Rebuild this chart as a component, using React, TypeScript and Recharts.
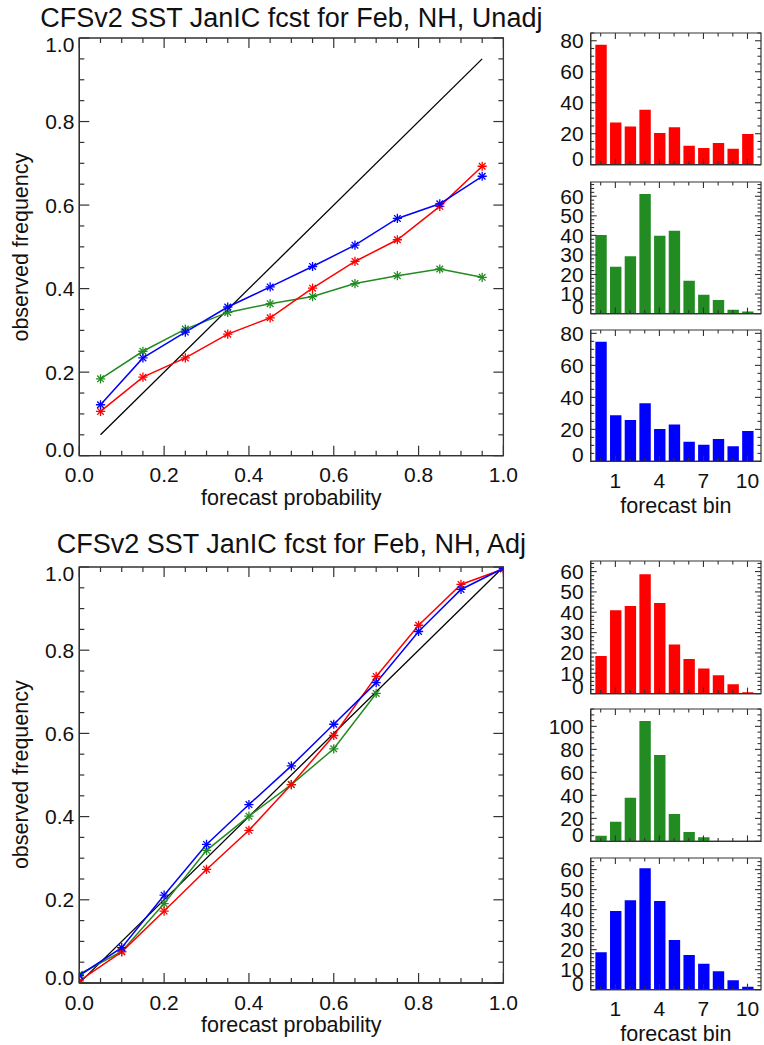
import React from 'react';
import { ComposedChart, Line, XAxis, YAxis, Bar, BarChart, ReferenceArea } from 'recharts';

const FONT = '"Liberation Sans", Arial, Helvetica, sans-serif';
const INK = '#111111';
const FRAME = '#333333';
const RED = '#ff0000';
const GREEN = '#228b22';
const BLUE = '#0000ff';

// ---------- Top panel (unadjusted) ----------
const unadjTitle = 'CFSv2 SST JanIC fcst for Feb, NH, Unadj';
const unadjProb = [0.05, 0.15, 0.25, 0.35, 0.45, 0.55, 0.65, 0.75, 0.85, 0.95];
const unadjRed = [0.106, 0.188, 0.234, 0.291, 0.33, 0.401, 0.465, 0.517, 0.597, 0.693];
const unadjGreen = [0.184, 0.25, 0.303, 0.343, 0.364, 0.381, 0.412, 0.431, 0.447, 0.427];
const unadjBlue = [0.122, 0.234, 0.296, 0.356, 0.404, 0.453, 0.504, 0.568, 0.603, 0.669];
const unadjDiagonal = [0.05, 0.95];

// ---------- Bottom panel (adjusted) ----------
const adjTitle = 'CFSv2 SST JanIC fcst for Feb, NH, Adj';
const adjProb = [0, 0.1, 0.2, 0.3, 0.4, 0.5, 0.6, 0.7, 0.8, 0.9, 1.0];
const adjRed = [0.005, 0.075, 0.173, 0.273, 0.367, 0.477, 0.595, 0.737, 0.86, 0.958, 0.995];
const adjGreen = [0.021, 0.076, 0.191, 0.319, 0.401, 0.477, 0.563, 0.696];
const adjBlue = [0.018, 0.085, 0.211, 0.333, 0.429, 0.522, 0.622, 0.722, 0.845, 0.946, 0.997];
const adjDiagonal = [0, 1];

// ---------- Histograms ----------
const bins = [0, 1, 2, 3, 4, 5, 6, 7, 8, 9, 10];
const binTickLabels = [1, 4, 7, 10];
const unadjHistRed = [77.4, 27.3, 24.7, 35.5, 20.4, 24.1, 12.3, 10.8, 14, 10.3, 19.8];
const unadjHistGreen = [40.2, 24, 29.3, 61.2, 39.8, 42.4, 16.8, 9.7, 6.9, 2, 1.1];
const unadjHistBlue = [74.8, 28.8, 25.8, 36.3, 20.2, 23.1, 12.3, 10.4, 14, 9.4, 19];
const adjHistRed = [18.5, 41, 43.1, 58.7, 44.6, 24.1, 17, 12.3, 9, 4.6, 0.6];
const adjHistGreen = [4.9, 17.1, 38, 104.6, 75, 23.8, 8.1, 3.5, 0, 0, 0];
const adjHistBlue = [18.7, 39.3, 44.7, 60.7, 44.3, 24.8, 17.3, 13, 9.2, 4.7, 1.5];

// tick labels
const probTicks = [0, 0.05, 0.1, 0.15, 0.2, 0.25, 0.3, 0.35, 0.4, 0.45, 0.5, 0.55, 0.6, 0.65, 0.7, 0.75, 0.8, 0.85, 0.9, 0.95, 1.0];
const probTickLabels = [0, 0.2, 0.4, 0.6, 0.8, 1.0];

const histRedTopLabels = [0, 20, 40, 60, 80];
const histGreenTopLabels = [0, 10, 20, 30, 40, 50, 60];
const histBlueTopLabels = [0, 20, 40, 60, 80];
const histRedBotLabels = [0, 10, 20, 30, 40, 50, 60];
const histGreenBotLabels = [0, 20, 40, 60, 80, 100];
const histBlueBotLabels = [0, 10, 20, 30, 40, 50, 60];

const xLabelProb = 'forecast probability';
const yLabelFreq = 'observed frequency';
const xLabelBin = 'forecast bin';

const near = (a: number, list: number[]) => list.some((b) => Math.abs(a - b) < 1e-6);

function minorTicks(max: number, step: number): number[] {
  const out: number[] = [];
  for (let i = 0; i * step <= max + 1e-9; i++) out.push(+(i * step).toFixed(6));
  return out;
}

const zip = (xs: number[], ys: number[]) => ys.map((y, i) => ({ x: xs[i], y }));

const star = (color: string) => (props: any) => {
  const { cx, cy, index } = props;
  if (cx == null || cy == null) return <g key={`n${index}`} />;
  const r = 4.6;
  const d = r * 0.72;
  return (
    <g key={`s${index}`} stroke={color} strokeWidth={1.3}>
      <line x1={cx - r} y1={cy} x2={cx + r} y2={cy} />
      <line x1={cx} y1={cy - r} x2={cx} y2={cy + r} />
      <line x1={cx - d} y1={cy - d} x2={cx + d} y2={cy + d} />
      <line x1={cx - d} y1={cy + d} x2={cx + d} y2={cy - d} />
    </g>
  );
};

type RelProps = {
  plotTop: number;
  plotBottom: number;
  red: { x: number; y: number }[];
  green: { x: number; y: number }[];
  blue: { x: number; y: number }[];
  diag: { x: number; y: number }[];
};

const PL = 79.3;
const PR = 503.4;

function Reliability({ plotTop, plotBottom, red, green, blue, diag }: RelProps) {
  const W = 540;
  const padTop = 14;
  const padBottom = 40;
  const plotH = plotBottom - plotTop;
  const plotW = PR - PL;
  const H = plotH + padTop + padBottom;
  const yW = 10;
  const xH = 10;

  const XTick = (p: any) => {
    const { x, y, payload } = p;
    const v = payload.value;
    const major = near(v, probTickLabels);
    const len = major ? 10 : 5;
    return (
      <g>
        <line x1={x} x2={x} y1={y} y2={y - len} stroke={FRAME} strokeWidth={1.2} />
        <line x1={x} x2={x} y1={y - plotH} y2={y - plotH + len} stroke={FRAME} strokeWidth={1.2} />
        {major && (
          <text x={x} y={y + 26.5} textAnchor="middle" fontFamily={FONT} fontSize={21} fill={INK}>
            {v.toFixed(1)}
          </text>
        )}
      </g>
    );
  };
  const YTick = (p: any) => {
    const { x, y, payload } = p;
    const v = payload.value;
    const major = near(v, probTickLabels);
    const len = major ? 10 : 5;
    const shift = v === 0 ? -6 : v === 1 ? 6 : 0;
    return (
      <g>
        <line x1={x} x2={x + len} y1={y} y2={y} stroke={FRAME} strokeWidth={1.2} />
        <line x1={x + plotW} x2={x + plotW - len} y1={y} y2={y} stroke={FRAME} strokeWidth={1.2} />
        {major && (
          <text x={x - 5} y={y + 7.6 + shift} textAnchor="end" fontFamily={FONT} fontSize={21} fill={INK}>
            {v.toFixed(1)}
          </text>
        )}
      </g>
    );
  };

  return (
    <div style={{ position: 'absolute', left: 0, top: plotTop - padTop }}>
      <ComposedChart
        width={W}
        height={H}
        margin={{ top: padTop, left: PL - yW, right: W - PR, bottom: padBottom - xH }}
      >
        <Line data={diag} dataKey="y" stroke="#000" strokeWidth={1.3} dot={false} isAnimationActive={false} />
        <Line data={green} dataKey="y" stroke={GREEN} strokeWidth={1.5} dot={star(GREEN)} isAnimationActive={false} />
        <Line data={red} dataKey="y" stroke={RED} strokeWidth={1.5} dot={star(RED)} isAnimationActive={false} />
        <Line data={blue} dataKey="y" stroke={BLUE} strokeWidth={1.5} dot={star(BLUE)} isAnimationActive={false} />
        <ReferenceArea x1={0} x2={1} y1={0} y2={1} fill="none" stroke={FRAME} strokeWidth={1.3} ifOverflow="visible" />
        <XAxis
          type="number"
          dataKey="x"
          domain={[0, 1]}
          allowDataOverflow
          ticks={probTicks}
          interval={0}
          tickSize={0}
          tickMargin={0}
          height={xH}
          axisLine={{ stroke: FRAME, strokeWidth: 1.3 }}
          tickLine={false}
          tick={XTick}
        />
        <YAxis
          type="number"
          domain={[0, 1]}
          allowDataOverflow
          ticks={probTicks}
          interval={0}
          tickSize={0}
          tickMargin={0}
          width={yW}
          axisLine={{ stroke: FRAME, strokeWidth: 1.3 }}
          tickLine={false}
          tick={YTick}
        />
      </ComposedChart>
    </div>
  );
}

const HL = 590.7;
const HR = 761;

type HistProps = {
  plotTop: number;
  plotBottom: number;
  values: number[];
  color: string;
  yMax: number;
  yLabels: number[];
  minorStep: number;
  showX: boolean;
};

function Histogram({ plotTop, plotBottom, values, color, yMax, yLabels, minorStep, showX }: HistProps) {
  const left = 540;
  const W = 224;
  const padTop = 14;
  const padBottom = 34;
  const plotH = plotBottom - plotTop;
  const plotW = HR - HL;
  const H = plotH + padTop + padBottom;
  const yW = 10;
  const xH = 10;
  const rows = bins.map((b, i) => ({ bin: b, v: values[i] }));
  const yTicks = minorTicks(yMax, minorStep);

  const XTick = (p: any) => {
    const { x, y, payload } = p;
    const v = payload.value;
    const major = near(v, binTickLabels);
    const len = major ? 6 : 3.5;
    return (
      <g>
        <line x1={x} x2={x} y1={y} y2={y - len} stroke={FRAME} strokeWidth={1.1} />
        <line x1={x} x2={x} y1={y - plotH} y2={y - plotH + len} stroke={FRAME} strokeWidth={1.1} />
        {major && showX && (
          <text x={x} y={y + 26.5} textAnchor="middle" fontFamily={FONT} fontSize={21} fill={INK}>
            {String(v)}
          </text>
        )}
      </g>
    );
  };
  const YTick = (p: any) => {
    const { x, y, payload } = p;
    const v = payload.value;
    const major = near(v, yLabels);
    const len = major ? 6 : 3.5;
    const shift = v === 0 ? -6.5 : 0;
    return (
      <g>
        <line x1={x} x2={x + len} y1={y} y2={y} stroke={FRAME} strokeWidth={1.1} />
        <line x1={x + plotW} x2={x + plotW - len} y1={y} y2={y} stroke={FRAME} strokeWidth={1.1} />
        {major && (
          <text x={x - 7} y={y + 7.4 + shift} textAnchor="end" fontFamily={FONT} fontSize={21} fill={INK}>
            {String(v)}
          </text>
        )}
      </g>
    );
  };

  return (
    <div style={{ position: 'absolute', left, top: plotTop - padTop }}>
      <BarChart
        width={W}
        height={H}
        data={rows}
        margin={{ top: padTop, left: HL - left - yW, right: left + W - HR, bottom: padBottom - xH }}
      >
        <Bar dataKey="v" fill={color} barSize={11.4} isAnimationActive={false} />
        <ReferenceArea x1={-0.68} x2={10.92} y1={0} y2={yMax} fill="none" stroke={FRAME} strokeWidth={1.2} ifOverflow="visible" />
        <XAxis
          type="number"
          dataKey="bin"
          domain={[-0.68, 10.92]}
          allowDataOverflow
          ticks={bins}
          interval={0}
          tickSize={0}
          tickMargin={0}
          height={xH}
          axisLine={{ stroke: FRAME, strokeWidth: 1.2 }}
          tickLine={false}
          tick={XTick}
        />
        <YAxis
          type="number"
          domain={[0, yMax]}
          allowDataOverflow
          ticks={yTicks}
          interval={0}
          tickSize={0}
          tickMargin={0}
          width={yW}
          axisLine={{ stroke: FRAME, strokeWidth: 1.2 }}
          tickLine={false}
          tick={YTick}
        />
      </BarChart>
    </div>
  );
}

export default function App() {
  const topPlot = { t: 38.3, b: 456 };
  const botPlot = { t: 566.7, b: 982.7 };
  const cx = (PL + PR) / 2;
  const hx = (HL + HR) / 2;
  return (
    <div style={{ position: 'absolute', left: 0, top: 0, width: 764, height: 1045, background: '#fff', fontFamily: FONT, overflow: 'hidden' }}>
      <Reliability
        plotTop={topPlot.t}
        plotBottom={topPlot.b}
        red={zip(unadjProb, unadjRed)}
        green={zip(unadjProb, unadjGreen)}
        blue={zip(unadjProb, unadjBlue)}
        diag={zip(unadjDiagonal, unadjDiagonal)}
      />
      <Reliability
        plotTop={botPlot.t}
        plotBottom={botPlot.b}
        red={zip(adjProb, adjRed)}
        green={zip(adjProb, adjGreen)}
        blue={zip(adjProb, adjBlue)}
        diag={zip(adjDiagonal, adjDiagonal)}
      />

      <Histogram plotTop={33.3} plotBottom={165} values={unadjHistRed} color={RED} yMax={85} yLabels={histRedTopLabels} minorStep={5} showX={false} />
      <Histogram plotTop={181.7} plotBottom={313.3} values={unadjHistGreen} color={GREEN} yMax={67.3} yLabels={histGreenTopLabels} minorStep={2} showX={false} />
      <Histogram plotTop={330.3} plotBottom={461.7} values={unadjHistBlue} color={BLUE} yMax={82.1} yLabels={histBlueTopLabels} minorStep={5} showX={true} />

      <Histogram plotTop={560.7} plotBottom={693.3} values={adjHistRed} color={RED} yMax={65.2} yLabels={histRedBotLabels} minorStep={2} showX={false} />
      <Histogram plotTop={709.3} plotBottom={841.7} values={adjHistGreen} color={GREEN} yMax={115.1} yLabels={histGreenBotLabels} minorStep={5} showX={false} />
      <Histogram plotTop={858.3} plotBottom={990} values={adjHistBlue} color={BLUE} yMax={65.8} yLabels={histBlueBotLabels} minorStep={2} showX={true} />

      <svg width={764} height={1045} style={{ position: 'absolute', left: 0, top: 0, pointerEvents: 'none' }}>
        <g fontFamily={FONT} fill={INK}>
          <text x={cx} y={26.7} textAnchor="middle" fontSize={27}>{unadjTitle}</text>
          <text x={cx} y={553.3} textAnchor="middle" fontSize={27}>{adjTitle}</text>
          <text x={cx} y={505} textAnchor="middle" fontSize={21.5}>{xLabelProb}</text>
          <text x={cx} y={1031.5} textAnchor="middle" fontSize={21.5}>{xLabelProb}</text>
          <text x={28} y={(topPlot.t + topPlot.b) / 2} textAnchor="middle" fontSize={21.5} transform={`rotate(-90 28 ${(topPlot.t + topPlot.b) / 2})`}>{yLabelFreq}</text>
          <text x={28} y={(botPlot.t + botPlot.b) / 2} textAnchor="middle" fontSize={21.5} transform={`rotate(-90 28 ${(botPlot.t + botPlot.b) / 2})`}>{yLabelFreq}</text>
          <text x={hx} y={513.3} textAnchor="middle" fontSize={21.5}>{xLabelBin}</text>
          <text x={hx} y={1041} textAnchor="middle" fontSize={21.5}>{xLabelBin}</text>
        </g>
      </svg>
    </div>
  );
}
